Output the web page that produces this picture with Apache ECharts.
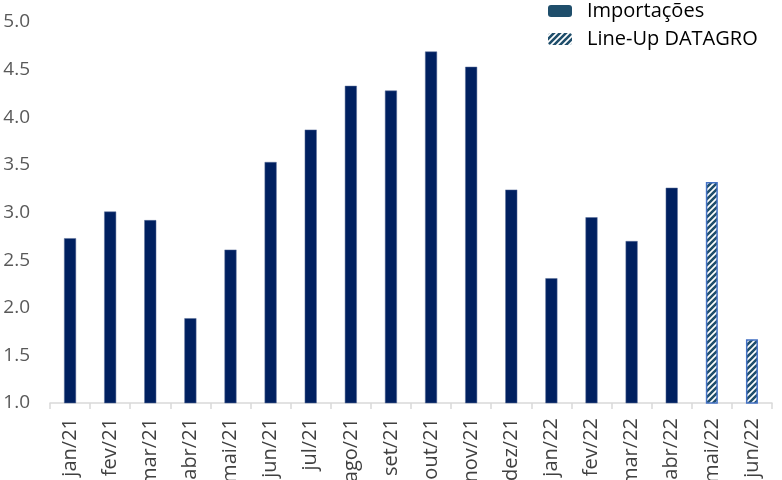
<!DOCTYPE html>
<html>
<head>
<meta charset="utf-8">
<script src="https://cdn.jsdelivr.net/npm/echarts@6/dist/echarts.min.js"></script>
<style>
  html, body { margin: 0; padding: 0; background: #ffffff; }
  #chart { width: 782px; height: 480px; }
</style>
</head>
<body>
<div id="chart"></div>
<script>
// Monthly categories
const months = ['jan/21','fev/21','mar/21','abr/21','mai/21','jun/21','jul/21','ago/21','set/21','out/21','nov/21','dez/21',
                'jan/22','fev/22','mar/22','abr/22','mai/22','jun/22'];
// Realized imports (first 16 months)
const importacoes = [2.73, 3.01, 2.92, 1.89, 2.61, 3.53, 3.87, 4.33, 4.28, 4.69, 4.53, 3.24,
                     2.31, 2.95, 2.70, 3.26, null, null];
// Line-up projection (last 2 months)
const lineUp = [null, null, null, null, null, null, null, null, null, null, null, null,
                null, null, null, null, 3.32, 1.67];
// Value axis ticks
const yMin = 1.0, yMax = 5.0, yStep = 0.5;

// Diagonal hatch tile for the projected bars
function hatchPattern() {
  const size = 6;
  const c = document.createElement('canvas');
  c.width = size; c.height = size;
  const ctx = c.getContext('2d');
  ctx.fillStyle = '#ffffff';
  ctx.fillRect(0, 0, size, size);
  ctx.strokeStyle = '#1F4E6B';
  ctx.lineWidth = 2.6;
  ctx.beginPath();
  ctx.moveTo(-1, size + 1); ctx.lineTo(size + 1, -1);
  ctx.moveTo(-1, 1); ctx.lineTo(1, -1);
  ctx.moveTo(size - 1, size + 1); ctx.lineTo(size + 1, size - 1);
  ctx.stroke();
  return { image: c, repeat: 'repeat' };
}

const font = '"Open Sans", "Noto Sans", sans-serif';
const chart = echarts.init(document.getElementById('chart'), null, { renderer: 'canvas' });

chart.setOption({
  animation: false,
  backgroundColor: '#ffffff',
  grid: { left: 50, right: 10, top: 22, bottom: 77, containLabel: false, outerBoundsMode: 'none' },
  legend: {
    orient: 'vertical',
    left: 543,
    top: -4,
    itemWidth: 24,
    itemHeight: 12,
    itemGap: 8,
    textStyle: { fontFamily: font, fontSize: 20, lineHeight: 20, color: '#000000', padding: [0, 0, 0, 10] },
    data: [
      { name: 'Importações', itemStyle: { color: '#1F4E6B', borderWidth: 0 } },
      { name: 'Line-Up DATAGRO', itemStyle: { color: hatchPattern(), borderWidth: 0 } }
    ]
  },
  xAxis: {
    type: 'category',
    data: months,
    boundaryGap: true,
    axisLine: { show: true, lineStyle: { color: '#D9D9D9', width: 1.5 } },
    axisTick: { show: true, alignWithLabel: false, length: 6, lineStyle: { color: '#D9D9D9', width: 1.5 } },
    axisLabel: { rotate: 90, margin: 15, fontFamily: font, fontSize: 20, color: '#404040', interval: 0 }
  },
  yAxis: {
    type: 'value',
    min: yMin,
    max: yMax,
    interval: yStep,
    axisLine: { show: false },
    axisTick: { show: false },
    splitLine: { show: false },
    axisLabel: {
      margin: 20,
      fontFamily: font, fontSize: 19, color: '#595959',
      formatter: v => v.toFixed(1)
    }
  },
  series: [
    {
      name: 'Importações',
      type: 'bar',
      data: importacoes,
      barWidth: 12,
      barGap: '-100%',
      itemStyle: { color: '#002060', borderColor: '#5A6E9A', borderWidth: 0.5 }
    },
    {
      name: 'Line-Up DATAGRO',
      type: 'bar',
      data: lineUp,
      barWidth: 12,
      barGap: '-100%',
      itemStyle: { color: hatchPattern(), borderColor: '#4472C4', borderWidth: 1.5 }
    }
  ]
});
</script>
</body>
</html>
